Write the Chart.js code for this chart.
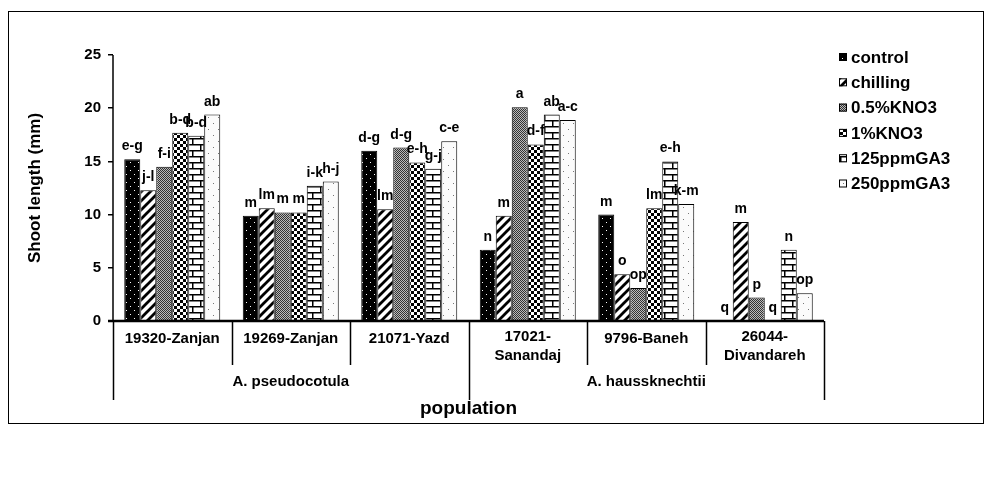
<!DOCTYPE html>
<html>
<head>
<meta charset="utf-8">
<script src="https://cdn.jsdelivr.net/npm/chart.js@4"></script>
<style>
  html, body { margin: 0; padding: 0; background: #fff; }
</style>
</head>
<body>
<canvas id="chart" width="989" height="490"></canvas>
<script>
"use strict";

// data
const populations = [["19320-Zanjan"], ["19269-Zanjan"], ["21071-Yazd"], ["17021-", "Sanandaj"], ["9796-Baneh"], ["26044-", "Divandareh"]];
const species = ["A. pseudocotula", "A. haussknechtii"];
const speciesSize = [3, 3];
const treatments = ["control", "chilling", "0.5%KNO3", "1%KNO3", "125ppmGA3", "250ppmGA3"];

const control = [15.2, 9.9, 16.0, 6.7, 10.0, 0];
const chilling = [12.3, 10.6, 10.5, 9.9, 4.4, 9.3];
const kno3Half = [14.5, 10.2, 16.3, 20.1, 3.1, 2.2];
const kno3One = [17.7, 10.2, 14.9, 16.6, 10.6, 0];
const ga125 = [17.4, 12.7, 14.3, 19.4, 15.0, 6.7];
const ga250 = [19.4, 13.1, 16.9, 18.9, 11.0, 2.6];

const controlLetters = ["e-g", "m", "d-g", "n", "m", "q"];
const chillingLetters = ["j-l", "lm", "lm", "m", "o", "m"];
const kno3HalfLetters = ["f-i", "m", "d-g", "a", "op", "p"];
const kno3OneLetters = ["b-d", "m", "e-h", "d-f", "lm", "q"];
const ga125Letters = ["b-d", "i-k", "g-j", "ab", "e-h", "n"];
const ga250Letters = ["ab", "h-j", "c-e", "a-c", "k-m", "op"];

const yTicks = [0, 5, 10, 15, 20, 25];

const FONT = "'Liberation Sans', Arial, sans-serif";
Chart.defaults.font.family = FONT;
Chart.defaults.color = "#000";

// fill patterns
function makePattern(w, h, draw) {
  const c = document.createElement("canvas");
  c.width = w;
  c.height = h;
  const g = c.getContext("2d");
  draw(g, w, h);
  return g.createPattern(c, "repeat");
}

const patControl = makePattern(8, 8, (g) => {
  g.fillStyle = "#000";
  g.fillRect(0, 0, 8, 8);
  g.fillStyle = "#fff";
  g.fillRect(2, 2, 1, 1);
  g.fillRect(6, 6, 1, 1);
});
const patChilling = makePattern(9, 9, (g) => {
  g.fillStyle = "#fff";
  g.fillRect(0, 0, 9, 9);
  g.strokeStyle = "#000";
  g.lineWidth = 2.8;
  g.beginPath();
  g.moveTo(-2, 11); g.lineTo(11, -2);
  g.moveTo(-7, 7); g.lineTo(7, -7);
  g.moveTo(2, 16); g.lineTo(16, 2);
  g.stroke();
});
const patKno3Half = makePattern(2, 2, (g) => {
  g.fillStyle = "#bbb";
  g.fillRect(0, 0, 2, 2);
  g.fillStyle = "#333";
  g.fillRect(0, 0, 1, 1);
  g.fillRect(1, 1, 1, 1);
});
const patKno3One = makePattern(6, 6, (g) => {
  g.fillStyle = "#fff";
  g.fillRect(0, 0, 6, 6);
  g.fillStyle = "#000";
  g.fillRect(0, 0, 3, 3);
  g.fillRect(3, 3, 3, 3);
});
const patGa125 = makePattern(16, 12, (g) => {
  g.fillStyle = "#fff";
  g.fillRect(0, 0, 16, 12);
  g.fillStyle = "#000";
  g.fillRect(0, 0, 16, 1.5);
  g.fillRect(0, 6, 16, 1.5);
  g.fillRect(8, 0, 1.5, 6);
  g.fillRect(0, 6, 1.5, 6);
});
const patGa250 = makePattern(10, 12, (g) => {
  g.fillStyle = "#fbfbfb";
  g.fillRect(0, 0, 10, 12);
  g.fillStyle = "#777";
  g.fillRect(3, 3, 1, 1);
  g.fillRect(8, 9, 1, 1);
});

const seriesValues = [control, chilling, kno3Half, kno3One, ga125, ga250];
const seriesLetters = [controlLetters, chillingLetters, kno3HalfLetters, kno3OneLetters, ga125Letters, ga250Letters];
const seriesFills = [patControl, patChilling, patKno3Half, patKno3One, patGa125, patGa250];

const datasets = treatments.map((name, i) => ({
  label: name,
  data: seriesValues[i],
  letters: seriesLetters[i],
  backgroundColor: seriesFills[i],
  borderColor: "#000",
  borderWidth: 1,
  categoryPercentage: 0.81,
  barPercentage: 1.0,
}));

// letters above bars
const letterPlugin = {
  id: "letters",
  afterDatasetsDraw(chart) {
    const ctx = chart.ctx;
    ctx.save();
    ctx.font = "bold 14px " + FONT;
    ctx.fillStyle = "#000";
    ctx.textAlign = "center";
    ctx.textBaseline = "alphabetic";
    chart.data.datasets.forEach((ds, di) => {
      const meta = chart.getDatasetMeta(di);
      meta.data.forEach((bar, i) => {
        ctx.fillText(ds.letters[i], bar.x, bar.y - 9);
      });
    });
    ctx.restore();
  },
};

// axes, category table, legend, frame
const framePlugin = {
  id: "frame",
  afterDraw(chart) {
    const ctx = chart.ctx;
    const area = chart.chartArea;
    const xs = chart.scales.x;
    const n = populations.length;
    const step = (area.right - area.left) / n;
    const sepBottom = area.bottom + 44;
    const groupBottom = area.bottom + 79;

    ctx.save();
    ctx.strokeStyle = "#000";

    // outer frame
    ctx.lineWidth = 1;
    ctx.strokeRect(8.5, 11.5, 975, 412);

    // y axis line
    ctx.lineWidth = 1.5;
    ctx.beginPath();
    ctx.moveTo(area.left, area.top);
    ctx.lineTo(area.left, area.bottom);
    ctx.stroke();

    // x axis line
    ctx.lineWidth = 2.5;
    ctx.beginPath();
    ctx.moveTo(area.left - 5, area.bottom);
    ctx.lineTo(area.right, area.bottom);
    ctx.stroke();

    // separators
    ctx.lineWidth = 1.5;
    ctx.beginPath();
    let k = 0;
    const groupEdges = [0];
    speciesSize.forEach((s) => { k += s; groupEdges.push(k); });
    for (let i = 0; i <= n; i++) {
      const x = Math.round(area.left + step * i) + 0.5;
      const bottom = groupEdges.includes(i) ? groupBottom : sepBottom;
      ctx.moveTo(x, area.bottom);
      ctx.lineTo(x, bottom);
    }
    ctx.stroke();

    // category labels
    ctx.fillStyle = "#000";
    ctx.textAlign = "center";
    ctx.textBaseline = "middle";
    ctx.font = "bold 15px " + FONT;
    populations.forEach((lines, i) => {
      const x = xs.getPixelForValue(i);
      const y0 = area.bottom + (lines.length === 1 ? 18 : 16);
      lines.forEach((t, j) => ctx.fillText(t, x, y0 + j * 19));
    });

    // species labels
    species.forEach((name, g) => {
      const x0 = area.left + step * groupEdges[g];
      const x1 = area.left + step * groupEdges[g + 1];
      ctx.fillText(name, (x0 + x1) / 2, area.bottom + 61);
    });

    // legend
    ctx.font = "bold 17px " + FONT;
    ctx.textAlign = "left";
    chart.data.datasets.forEach((ds, i) => {
      const y = 57 + i * 25.3;
      ctx.fillStyle = ds.backgroundColor;
      ctx.fillRect(839, y - 4, 8, 8);
      ctx.lineWidth = 1;
      ctx.strokeRect(839.5, y - 3.5, 7, 7);
      ctx.fillStyle = "#000";
      ctx.fillText(ds.label, 851, y + 1);
    });

    ctx.restore();
  },
};

new Chart(document.getElementById("chart"), {
  type: "bar",
  data: {
    labels: populations,
    datasets: datasets,
  },
  options: {
    responsive: false,
    animation: false,
    layout: { padding: { top: 55, right: 165, left: 0, bottom: 0 } },
    plugins: {
      legend: { display: false },
      tooltip: { enabled: false },
    },
    scales: {
      x: {
        grid: { display: false },
        border: { display: false },
        ticks: { display: false },
        title: {
          display: true,
          text: "population",
          font: { size: 19, weight: "bold" },
          padding: { top: 0, bottom: 70 },
        },
        afterFit(scale) { scale.height = 169; },
      },
      y: {
        min: 0,
        max: 25,
        afterBuildTicks(scale) { scale.ticks = yTicks.map((v) => ({ value: v })); },
        grid: { display: true, drawOnChartArea: false, tickLength: 5, color: "#000", lineWidth: 1.5 },
        border: { display: false },
        ticks: { font: { size: 15, weight: "bold" }, padding: 7, color: "#000" },
        title: {
          display: true,
          text: "Shoot length (mm)",
          font: { size: 17, weight: "bold" },
          padding: { top: 25, bottom: 0 },
        },
        afterFit(scale) { scale.width = 113; },
      },
    },
  },
  plugins: [letterPlugin, framePlugin],
});
</script>
</body>
</html>
